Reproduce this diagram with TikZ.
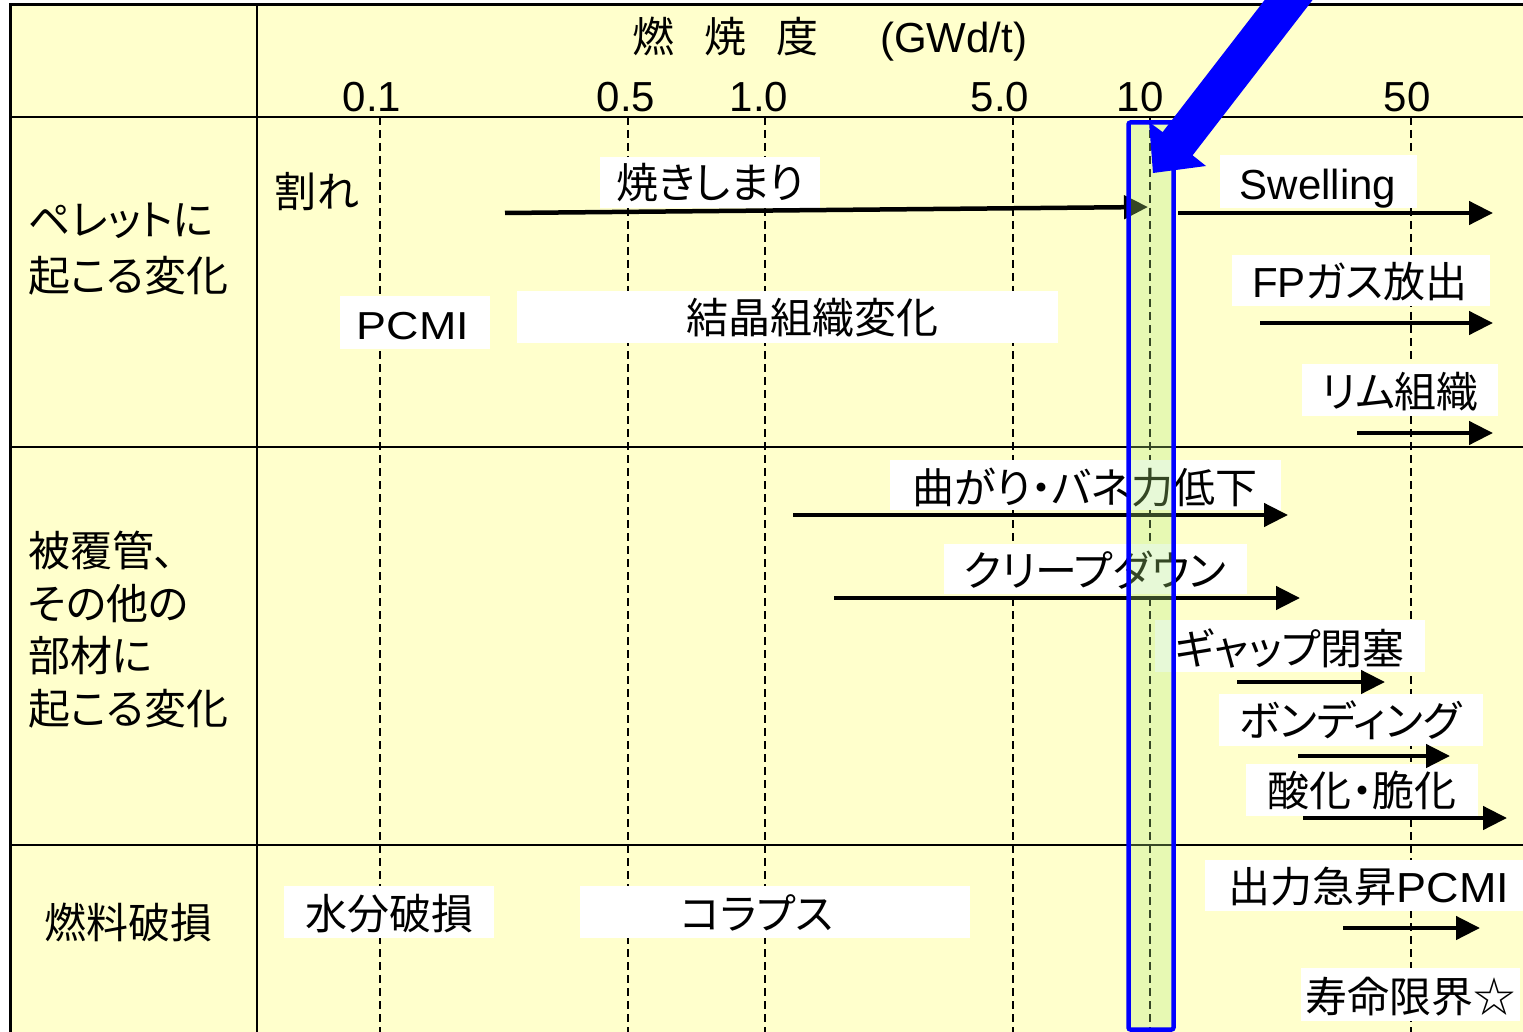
\documentclass[tikz,border=0pt]{standalone}
\usepackage{fontspec}
\setmainfont{Liberation Sans}
\newfontfamily\jp[RawFeature=+palt]{Noto Sans CJK JP}
\usetikzlibrary{arrows.meta}
\definecolor{bgyellow}{RGB}{255,255,204}
\definecolor{colgreen}{RGB}{178,238,124}
\definecolor{arrowblue}{RGB}{0,0,255}
\newcommand{\widepcmi}{\scalebox{1.15}[1]{\fontsize{39}{44}\selectfont PCMI}}
\newcommand{\bigpcmi}{\scalebox{1.07}[1]{PCMI}}
\tikzset{
  lbl/.style={inner sep=0pt, text height=36pt, text depth=4pt, font=\fontsize{42}{50}\selectfont},
  wbox/.style={fill=white},
  gridline/.style={line width=2pt},
  guide/.style={line width=1.3pt, dash pattern=on 8pt off 5pt},
  trend/.style={line width=4.5pt, -{Triangle[length=24pt,width=23pt]}},
}
\begin{document}
\begin{tikzpicture}[x=1pt,y=-1pt]
\useasboundingbox (0,0) rectangle (1523,1032);
\clip (0,0) rectangle (1523,1032);
\fill[white] (0,0) rectangle (1523,1032);
\fill[bgyellow] (10,5) rectangle (1540,1050);
% guides
\foreach \x in {380,628,765,1013,1150,1411} \draw[guide] (\x,117) -- (\x,1040);
% grid
\draw[line width=3pt] (1540,5) -- (10,5) -- (10,1050);
\draw[gridline] (10,117) -- (1540,117);
\draw[gridline] (10,447) -- (1540,447);
\draw[gridline] (10,845) -- (1540,845);
\draw[gridline] (257,5) -- (257,1050);
% white boxes
\fill[wbox] (600,157) rectangle (820,208);
\fill[wbox] (1220,155) rectangle (1417,208);
\fill[wbox] (1232,255) rectangle (1490,306);
\fill[wbox] (1302,364) rectangle (1498,416);
\fill[wbox] (340,296) rectangle (490,349);
\fill[wbox] (517,291) rectangle (1058,343);
\fill[wbox] (890,460) rectangle (1281,510);
\fill[wbox] (944,544) rectangle (1247,594);
\fill[wbox] (1155,620) rectangle (1425,672);
\fill[wbox] (1219,694) rectangle (1483,746);
\fill[wbox] (1246,764) rectangle (1478,816);
\fill[wbox] (284,886) rectangle (494,938);
\fill[wbox] (580,886) rectangle (970,938);
\fill[wbox] (1205,860) rectangle (1523,911);
\fill[wbox] (1301,968) rectangle (1520,1021);
% header
\node[lbl, anchor=west] (title) at (632,37) {{\jp 燃}\hspace{30pt}{\jp 焼}\hspace{30pt}{\jp 度}\hspace{62pt}(GWd/t)};
\node[lbl] (t01) at (372,96) {0.1};
\node[lbl] (t05) at (626,96) {0.5};
\node[lbl] (t10) at (759,96) {1.0};
\node[lbl] (t50) at (1000,96) {5.0};
\node[lbl] (t100) at (1140,96) {10};
\node[lbl] (t500) at (1407,96) {50};
% row labels
\node[lbl, anchor=west] (r1a) at (28,220) {\jp ペレットに};
\node[lbl, anchor=west] (r1b) at (28,275) {\jp 起こる変化};
\node[lbl, anchor=west] (r2a) at (28,550) {\jp 被覆管、};
\node[lbl, anchor=west] (r2b) at (28,603) {\jp その他の};
\node[lbl, anchor=west] (r2c) at (28,655) {\jp 部材に};
\node[lbl, anchor=west] (r2d) at (28,708) {\jp 起こる変化};
\node[lbl] (r3) at (128,922) {\jp 燃料破損};
% phenomena
\node[lbl] (ware) at (317,192) {\jp 割れ};
\node[lbl] (yaki) at (710,183) {\jp 焼きしまり};
\node[lbl] (swell) at (1318,184) {Swelling};
\node[lbl] (fp) at (1360,282) {FP{\jp ガス放出}};
\node[lbl] (rim) at (1400,391) {\jp リム組織};
\node[lbl] (pcmi) at (413,323) {\widepcmi};
\node[lbl] (kessho) at (812,318) {\jp 結晶組織変化};
\node[lbl] (mag) at (1085,487) {\jp 曲がり・バネ力低下};
\node[lbl] (creep) at (1095,570) {\jp クリープダウン};
\node[lbl] (gap) at (1290,648) {\jp ギャップ閉塞};
\node[lbl] (bond) at (1350,720) {\jp ボンディング};
\node[lbl] (ox) at (1362,790) {\jp 酸化・脆化};
\node[lbl] (water) at (389,913) {\jp 水分破損};
\node[lbl] (coll) at (757,913) {\jp コラプス};
\node[lbl] (power) at (1369,886) {{\jp 出力急昇}\bigpcmi};
\node[lbl] (life) at (1410,996) {\jp 寿命限界☆};
% arrows
\coordinate (yakiA) at (505,213); \coordinate (yakiB) at (1148,207);
\coordinate (swA) at (1178,213); \coordinate (swB) at (1493,213);
\coordinate (fpA) at (1260,323); \coordinate (fpB) at (1493,323);
\coordinate (rimA) at (1357,433); \coordinate (rimB) at (1493,433);
\coordinate (magA) at (793,515); \coordinate (magB) at (1288,515);
\coordinate (crA) at (834,598); \coordinate (crB) at (1300,598);
\coordinate (gapA) at (1237,682); \coordinate (gapB) at (1385,682);
\coordinate (bondA) at (1298,756); \coordinate (bondB) at (1450,756);
\coordinate (oxA) at (1303,818); \coordinate (oxB) at (1507,818);
\coordinate (pwA) at (1343,928); \coordinate (pwB) at (1480,928);
\draw[trend] (yakiA) -- (yakiB);
\draw[trend] (swA) -- (swB);
\draw[trend] (fpA) -- (fpB);
\draw[trend] (rimA) -- (rimB);
\draw[trend] (magA) -- (magB);
\draw[trend] (crA) -- (crB);
\draw[trend] (gapA) -- (gapB);
\draw[trend] (bondA) -- (bondB);
\draw[trend] (oxA) -- (oxB);
\draw[trend] (pwA) -- (pwB);
% highlighted column
\filldraw[fill=colgreen, fill opacity=0.3, draw=arrowblue, line width=4.5pt, rounded corners=2pt] (1128.5,122.5) rectangle (1173.5,1029.5);
% big blue arrow
\fill[arrowblue] (1153,173) -- (1206,166) -- (1192.6,155.3) -- (1333.1,-26.6) -- (1303.1,-49.8) -- (1162.6,132.1) -- (1149,122) -- cycle;
\end{tikzpicture}
\end{document}
